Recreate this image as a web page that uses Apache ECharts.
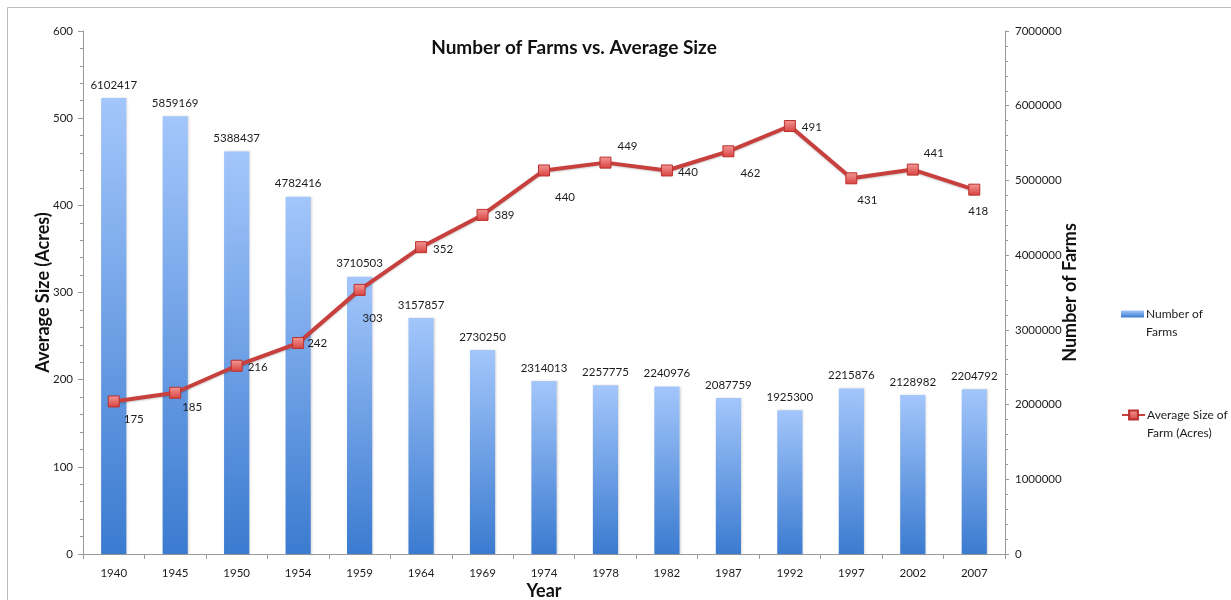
<!DOCTYPE html>
<html>
<head>
<meta charset="utf-8">
<title>Number of Farms vs. Average Size</title>
<script src="https://cdn.jsdelivr.net/npm/echarts@6/dist/echarts.min.js"></script>
<style>
  html, body { margin: 0; padding: 0; background: #fff; }
  #chart { width: 1231px; height: 600px; }
</style>
</head>
<body>
<div id="chart"></div>
<script>
// Census years
const years = ['1940', '1945', '1950', '1954', '1959', '1964', '1969', '1974',
  '1978', '1982', '1987', '1992', '1997', '2002', '2007'];

// Number of farms (right axis)
const farmCounts = [6102417, 5859169, 5388437, 4782416, 3710503, 3157857, 2730250,
  2314013, 2257775, 2240976, 2087759, 1925300, 2215876, 2128982, 2204792];

// Average farm size in acres (left axis)
const avgSize = [175, 185, 216, 242, 303, 352, 389, 440, 449, 440, 462, 491, 431, 441, 418];

// Where each size label sits relative to its marker, in pixels
const sizeLabelOffsets = [[20, 18], [17, 15], [21, 2], [19, 0], [13, 28], [22, 2], [22, 0],
  [21, 27], [22, -16], [21, 2], [22, 22], [22, 1], [16, 22], [21, -16], [4, 22]];

const labelFont = 'Lato, "Liberation Sans", Arial, sans-serif';
const headFont = 'Lato, "Open Sans", sans-serif';
const axisGray = '#9a9a9a';
const textColor = '#1c1c1c';

const chart = echarts.init(document.getElementById('chart'), null, { renderer: 'canvas' });

const sizeData = avgSize.map((v, i) => ({
  value: v,
  label: { offset: sizeLabelOffsets[i] }
}));

chart.setOption({
  backgroundColor: '#ffffff',
  animation: false,
  graphic: [{
    type: 'rect',
    shape: { x: 7.5, y: 7.5, width: 1400, height: 800 },
    style: { fill: 'none', stroke: '#bcbcbc', lineWidth: 1 },
    silent: true,
    z: -10
  }],
  title: {
    text: 'Number of Farms vs. Average Size',
    left: 569,
    textAlign: 'center',
    top: 33,
    textStyle: { fontFamily: headFont, fontWeight: 'bold', fontSize: 19, color: '#111' }
  },
  legend: [{
    data: ['Number of Farms'],
    left: 1121,
    top: 287,
    padding: 0,
    icon: 'rect',
    itemWidth: 23,
    itemHeight: 7,
    formatter: () => '\nNumber of\nFarms',
    textStyle: { fontFamily: labelFont, fontSize: 12, color: textColor, lineHeight: 18, padding: [0, 0, 0, -3] }
  }, {
    data: ['Average Size of Farm (Acres)'],
    left: 1121,
    top: 388,
    padding: 0,
    itemWidth: 23,
    itemHeight: 11,
    formatter: () => '\nAverage Size of\nFarm (Acres)',
    textStyle: { fontFamily: labelFont, fontSize: 12, color: textColor, lineHeight: 18, padding: [0, 0, 0, -3] }
  }],
  grid: { left: 83, right: 226, top: 31, bottom: 46, containLabel: false, outerBoundsMode: 'none' },
  xAxis: {
    type: 'category',
    data: years,
    name: 'Year',
    nameLocation: 'middle',
    nameGap: 28,
    nameMoveOverlap: false,
    nameTextStyle: { fontFamily: headFont, fontWeight: 'bold', fontSize: 18, color: '#111' },
    axisLine: { lineStyle: { color: axisGray, width: 1 } },
    axisTick: { show: true, alignWithLabel: false, length: 5, lineStyle: { color: axisGray } },
    axisLabel: { margin: 13, fontFamily: labelFont, fontSize: 11.5, color: textColor },
    splitLine: { show: false }
  },
  yAxis: [{
    type: 'value',
    position: 'left',
    min: 0,
    max: 600,
    interval: 100,
    name: 'Average Size (Acres)',
    nameLocation: 'middle',
    nameRotate: 90,
    nameGap: 31,
    nameMoveOverlap: false,
    nameTextStyle: { fontFamily: headFont, fontWeight: 'bold', fontSize: 18, color: '#111' },
    axisLine: { show: true, lineStyle: { color: axisGray, width: 1 } },
    axisTick: { show: true, length: 5, lineStyle: { color: axisGray } },
    minorTick: { show: true, splitNumber: 5, length: 3, lineStyle: { color: axisGray } },
    axisLabel: { margin: 10, fontFamily: labelFont, fontSize: 11.5, color: textColor },
    splitLine: { show: false },
    minorSplitLine: { show: false }
  }, {
    type: 'value',
    position: 'right',
    min: 0,
    max: 7000000,
    interval: 1000000,
    name: 'Number of Farms',
    nameLocation: 'middle',
    nameRotate: 90,
    nameGap: 56,
    nameMoveOverlap: false,
    nameTextStyle: { fontFamily: headFont, fontWeight: 'bold', fontSize: 18, color: '#111' },
    axisLine: { show: true, lineStyle: { color: axisGray, width: 1 } },
    axisTick: { show: true, length: 4, lineStyle: { color: axisGray } },
    minorTick: { show: true, splitNumber: 5, length: 3, lineStyle: { color: axisGray } },
    axisLabel: { margin: 10, fontFamily: labelFont, fontSize: 11.5, color: textColor, formatter: v => String(v) },
    splitLine: { show: false },
    minorSplitLine: { show: false }
  }],
  series: [{
    name: 'Number of Farms',
    type: 'bar',
    yAxisIndex: 1,
    data: farmCounts,
    barWidth: '41%',
    itemStyle: {
      color: new echarts.graphic.LinearGradient(0, 0, 0, 1, [
        { offset: 0, color: '#a3c6fb' },
        { offset: 1, color: '#3b7bd0' }
      ]),
      shadowColor: 'rgba(0,0,0,0.15)',
      shadowBlur: 2,
      shadowOffsetX: 1
    },
    label: {
      show: true,
      position: 'top',
      distance: 7,
      fontFamily: labelFont,
      fontSize: 11.5,
      color: textColor
    },
    z: 2
  }, {
    name: 'Average Size of Farm (Acres)',
    type: 'line',
    yAxisIndex: 0,
    data: sizeData,
    symbol: 'rect',
    symbolSize: 11,
    lineStyle: { color: '#c8403d', width: 4, shadowColor: 'rgba(0,0,0,0.2)', shadowBlur: 2, shadowOffsetY: 1 },
    itemStyle: {
      color: new echarts.graphic.LinearGradient(0, 0, 0, 1, [
        { offset: 0, color: '#f39a97' },
        { offset: 1, color: '#d8403d' }
      ]),
      borderColor: '#b8302d',
      borderWidth: 1
    },
    label: {
      show: true,
      position: 'inside',
      fontFamily: labelFont,
      fontSize: 11.5,
      color: textColor
    },
    z: 5
  }]
});
</script>
</body>
</html>
